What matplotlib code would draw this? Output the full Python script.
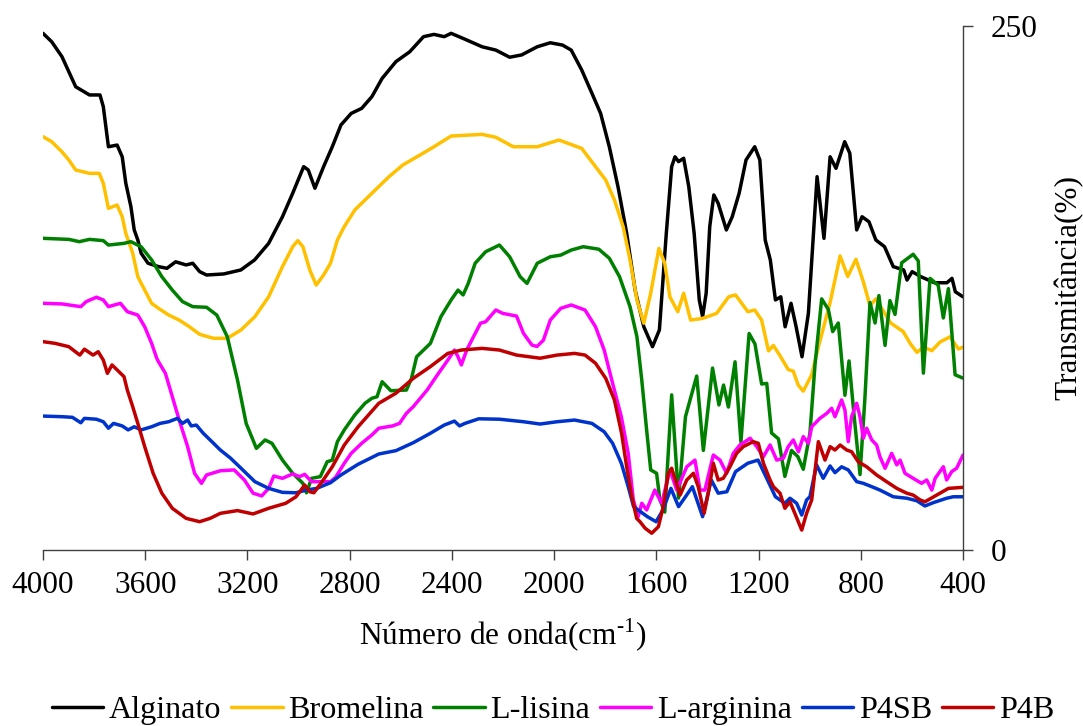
import matplotlib
matplotlib.use("Agg")
import matplotlib.pyplot as plt

plt.rcParams['font.family'] = ['Liberation Serif', 'DejaVu Serif']
plt.rcParams['mathtext.fontset'] = 'custom'
plt.rcParams['mathtext.rm'] = 'Liberation Serif'

# FTIR spectra: wavenumber (cm-1) and transmittance (%)
alginato_wn = [4000, 3966, 3926, 3899, 3872, 3818, 3777, 3764, 3744, 3710, 3690, 3676, 3656, 3643,
               3629, 3616, 3589, 3548, 3515, 3481, 3440, 3414, 3387, 3360, 3293, 3226, 3172, 3117,
               3063, 3023, 2980, 2962, 2936, 2902, 2868, 2834, 2794, 2753, 2713, 2673, 2619, 2565,
               2511, 2470, 2430, 2403, 2349, 2282, 2228, 2174, 2127, 2066, 2015, 1967, 1933, 1892,
               1852, 1818, 1784, 1750, 1716, 1683, 1649, 1615, 1588, 1561, 1540, 1527, 1513, 1493,
               1473, 1452, 1432, 1419, 1405, 1391, 1375, 1358, 1326, 1303, 1276, 1249, 1215, 1195,
               1174, 1154, 1134, 1113, 1096, 1073, 1053, 1030, 1005, 971, 944, 920, 897, 863, 843,
               816, 795, 768, 741, 707, 673, 632, 619, 599, 565, 511, 463, 443, 430, 400]
alginato_t = [246.5, 242.5, 235.4, 228.2, 221.0, 217.1, 217.1, 211.5, 192.4, 193.2, 187.6, 175.0, 163.8, 152.7,
              147.9, 141.6, 136.8, 135.2, 134.4, 137.5, 136.0, 136.8, 132.8, 131.2, 131.7, 133.6, 138.4, 146.3,
              159.0, 170.2, 182.9, 181.3, 172.6, 182.9, 192.4, 202.8, 208.3, 210.7, 216.3, 225.0, 233.0, 237.7,
              244.9, 246.0, 244.9, 246.5, 243.7, 240.1, 238.5, 235.1, 236.2, 240.1, 242.0, 240.9, 238.5, 229.0,
              217.9, 208.3, 192.4, 173.3, 151.1, 124.0, 106.5, 97.0, 105.0, 151.1, 182.9, 187.6, 185.3, 186.9,
              173.3, 151.1, 119.3, 111.3, 122.5, 154.3, 169.4, 165.4, 152.7, 159.0, 170.2, 186.1, 192.4, 186.1,
              147.9, 138.4, 119.3, 120.8, 106.5, 117.7, 106.5, 92.2, 112.9, 178.1, 148.7, 187.6, 182.1, 194.8, 189.3,
              152.7, 159.0, 156.6, 147.9, 144.7, 135.2, 133.6, 128.8, 132.8, 130.4, 127.5, 127.5, 129.6, 123.2, 120.8]

bromelina_wn = [4000, 3966, 3926, 3899, 3872, 3818, 3780, 3764, 3744, 3710, 3690, 3676, 3649, 3629,
                3602, 3575, 3548, 3508, 3467, 3427, 3387, 3333, 3279, 3225, 3171, 3117, 3063, 3023,
                3003, 2983, 2956, 2931, 2902, 2875, 2848, 2821, 2780, 2713, 2646, 2592, 2524, 2470,
                2403, 2282, 2228, 2160, 2066, 1981, 1892, 1838, 1798, 1764, 1730, 1703, 1676, 1649,
                1622, 1590, 1567, 1547, 1516, 1493, 1466, 1419, 1364, 1317, 1290, 1242, 1215, 1188,
                1161, 1142, 1116, 1084, 1064, 1045, 1025, 992, 966, 920, 881, 851, 819, 790, 764,
                741, 683, 634, 606, 580, 555, 522, 490, 451, 418, 400]
bromelina_t = [197.2, 194.8, 190.0, 186.1, 181.3, 179.7, 179.7, 175.0, 163.0, 164.6, 159.0, 151.1, 141.6, 130.4,
               124.0, 117.7, 115.3, 112.1, 109.7, 106.5, 102.9, 101.0, 101.0, 105.0, 111.3, 120.8, 135.2, 144.7,
               147.6, 144.7, 133.6, 126.4, 131.2, 136.8, 147.9, 154.3, 162.2, 170.2, 178.1, 183.7, 188.5, 192.4,
               197.5, 198.3, 196.9, 192.4, 192.4, 195.6, 191.6, 182.9, 176.5, 167.0, 154.3, 138.4, 119.3, 108.2,
               122.5, 143.9, 136.8, 120.8, 113.7, 122.5, 109.7, 110.5, 112.9, 120.8, 121.7, 113.7, 114.5, 109.7,
               95.0, 97.6, 92.7, 86.1, 85.3, 78.7, 75.8, 83.6, 96.8, 118.1, 140.3, 130.5, 138.7, 128.0, 116.5,
               119.8, 108.3, 104.2, 98.4, 94.3, 96.8, 95.1, 99.2, 101.7, 95.9, 96.8]

lisina_wn = [4000, 3899, 3858, 3818, 3764, 3744, 3683, 3656, 3616, 3575, 3535, 3494, 3454, 3414,
             3360, 3320, 3279, 3239, 3205, 3165, 3131, 3104, 3063, 3023, 2983, 2969, 2949, 2915,
             2888, 2868, 2848, 2821, 2780, 2740, 2713, 2693, 2673, 2639, 2578, 2558, 2538, 2484,
             2443, 2403, 2376, 2356, 2336, 2309, 2268, 2214, 2174, 2133, 2106, 2066, 2015, 1974,
             1933, 1886, 1825, 1784, 1744, 1703, 1676, 1657, 1638, 1622, 1599, 1586, 1567, 1540,
             1513, 1486, 1468, 1442, 1416, 1380, 1355, 1337, 1318, 1292, 1269, 1237, 1214, 1201,
             1188, 1168, 1149, 1122, 1097, 1071, 1046, 1025, 999, 979, 953, 927, 910, 888, 862,
             846, 826, 803, 784, 764, 744, 729, 705, 686, 666, 640, 595, 575, 555, 529, 497,
             477, 457, 431, 400]
lisina_t = [148.7, 148.2, 147.1, 148.2, 147.6, 145.5, 146.3, 147.1, 144.7, 138.4, 130.4, 124.0, 118.5, 116.1,
            115.8, 112.1, 101.8, 81.1, 60.4, 48.5, 52.5, 50.9, 42.9, 36.6, 31.8, 27.3, 34.2, 35.0,
            42.1, 42.9, 51.7, 57.3, 64.4, 70.0, 72.4, 73.1, 80.3, 76.0, 76.3, 81.9, 92.2, 98.6,
            111.3, 119.3, 124.0, 121.7, 127.2, 136.8, 142.3, 145.5, 139.9, 130.4, 127.2, 136.8, 139.9, 140.7,
            143.1, 144.7, 143.5, 139.2, 130.4, 116.1, 101.8, 81.1, 57.3, 38.2, 36.6, 23.9, 18.1, 74.0,
            24.8, 63.6, 71.6, 83.0, 47.5, 86.8, 69.2, 78.7, 68.2, 89.8, 51.5, 103.3, 98.3, 88.7,
            79.2, 79.5, 55.8, 53.0, 35.1, 47.5, 44.5, 38.5, 55.7, 88.5, 119.8, 114.8, 104.2, 108.3, 73.8,
            90.2, 63.9, 36.0, 72.1, 118.1, 108.3, 121.4, 97.6, 119.0, 112.4, 137.0, 141.1, 137.9, 84.4, 129.6, 126.3,
            110.7, 124.7, 83.6, 82.0]

arginina_wn = [4000, 3926, 3852, 3831, 3791, 3764, 3744, 3697, 3670, 3629, 3602, 3575, 3555, 3548,
               3521, 3494, 3467, 3434, 3407, 3380, 3360, 3306, 3252, 3212, 3178, 3144, 3117, 3097,
               3063, 3023, 2996, 2976, 2949, 2915, 2875, 2855, 2821, 2794, 2753, 2713, 2686, 2632,
               2605, 2578, 2551, 2497, 2457, 2416, 2390, 2376, 2363, 2342, 2322, 2288, 2268, 2228,
               2201, 2147, 2120, 2087, 2067, 2042, 2015, 1974, 1933, 1879, 1838, 1804, 1771, 1737,
               1710, 1690, 1671, 1657, 1638, 1606, 1579, 1547, 1520, 1481, 1449, 1429, 1410, 1377,
               1351, 1325, 1299, 1273, 1233, 1207, 1181, 1155, 1129, 1103, 1084, 1064, 1044, 1025,
               1005, 992, 960, 933, 914, 901, 875, 862, 849, 836, 816, 803, 790, 777, 757, 738,
               725, 705, 679, 659, 646, 627, 595, 562, 542, 522, 509, 477, 464, 444, 425, 400]
arginina_t = [117.7, 117.4, 116.1, 118.5, 120.6, 119.3, 116.1, 117.7, 113.7, 112.1, 106.5, 98.6, 91.5, 89.8,
              84.3, 73.1, 62.0, 49.3, 36.6, 31.8, 35.8, 37.8, 38.2, 33.4, 27.1, 25.8, 29.4, 35.3,
              34.2, 36.3, 35.0, 36.1, 32.6, 32.6, 32.6, 34.7, 41.4, 46.1, 50.9, 54.9, 58.1, 59.2,
              60.4, 65.2, 68.4, 76.3, 83.5, 90.6, 95.4, 92.2, 88.3, 95.4, 100.2, 108.2, 108.9, 114.5,
              112.9, 111.6, 103.4, 97.8, 97.1, 100.1, 109.7, 115.3, 116.9, 114.5, 106.5, 95.4, 79.5, 63.6,
              46.1, 23.9, 15.9, 22.3, 19.1, 28.6, 22.3, 38.2, 28.6, 39.7, 42.9, 28.6, 28.6, 45.3,
              42.9, 36.6, 46.1, 50.1, 53.3, 49.3, 44.5, 50.1, 42.9, 43.8, 49.3, 52.5, 46.9, 54.1,
              50.9, 58.8, 62.8, 65.2, 67.6, 63.6, 71.6, 66.8, 51.7, 63.6, 70.0, 63.6, 53.3, 58.1, 52.5, 50.1,
              44.5, 39.0, 46.1, 40.6, 42.9, 36.6, 34.2, 31.8, 33.4, 28.6, 34.2, 39.7, 33.4, 37.4, 39.0, 45.3]

p4sb_wn = [4000, 3926, 3885, 3852, 3838, 3791, 3764, 3744, 3724, 3690, 3667, 3643, 3616, 3575,
           3542, 3508, 3474, 3454, 3434, 3420, 3400, 3373, 3346, 3306, 3266, 3225, 3171, 3117,
           3063, 3010, 2969, 2929, 2875, 2834, 2767, 2686, 2619, 2551, 2484, 2430, 2390, 2370,
           2349, 2295, 2214, 2120, 2055, 1988, 1920, 1852, 1804, 1771, 1737, 1710, 1689, 1662,
           1635, 1601, 1574, 1543, 1513, 1486, 1459, 1419, 1385, 1358, 1324, 1290, 1242, 1202,
           1168, 1134, 1097, 1077, 1051, 1031, 1012, 999, 973, 947, 920, 901, 875, 849, 816,
           790, 757, 725, 673, 620, 581, 549, 516, 464, 438, 400]
p4sb_t = [63.9, 63.6, 63.3, 60.7, 62.8, 62.4, 61.2, 58.1, 60.4, 59.2, 57.3, 58.8, 57.3, 58.8,
          60.4, 61.2, 62.8, 60.4, 62.0, 59.2, 59.6, 55.7, 52.5, 47.7, 43.8, 39.0, 32.6, 29.4,
          27.5, 27.3, 28.6, 29.4, 32.1, 35.8, 40.9, 45.8, 47.4, 51.2, 55.7, 59.6, 61.5, 59.2,
          60.4, 62.6, 62.4, 61.2, 60.1, 61.2, 62.0, 60.4, 56.4, 50.9, 41.4, 30.2, 20.7, 18.3,
          15.9, 13.5, 19.1, 29.4, 20.7, 25.4, 30.2, 15.9, 33.4, 27.1, 27.8, 37.4, 41.4, 42.9,
          34.2, 25.4, 22.3, 24.7, 22.3, 16.7, 23.9, 25.4, 40.6, 34.2, 40.1, 36.9, 39.7, 38.2, 32.6,
          31.8, 30.2, 28.6, 25.4, 24.7, 23.5, 21.0, 22.6, 24.7, 25.4, 25.4]

p4b_wn = [4000, 3953, 3899, 3856, 3838, 3804, 3784, 3764, 3748, 3730, 3703, 3683, 3670, 3649,
          3629, 3602, 3569, 3535, 3494, 3440, 3387, 3346, 3306, 3239, 3178, 3117, 3050, 3010,
          2976, 2956, 2940, 2908, 2868, 2821, 2767, 2686, 2619, 2551, 2484, 2416, 2363, 2282,
          2214, 2147, 2055, 1988, 1920, 1879, 1838, 1798, 1764, 1736, 1716, 1696, 1677, 1664,
          1644, 1618, 1592, 1573, 1553, 1540, 1507, 1481, 1455, 1436, 1413, 1397, 1377, 1358,
          1338, 1312, 1286, 1260, 1221, 1201, 1181, 1155, 1142, 1116, 1097, 1077, 1058, 1031,
          1012, 992, 966, 940, 920, 901, 881, 855, 836, 810, 777, 738, 699, 659, 620, 595,
          568, 549, 503, 457, 400]
p4b_t = [99.4, 98.6, 97.0, 93.0, 95.8, 93.0, 94.6, 90.6, 84.3, 88.3, 85.1, 82.7, 76.3, 68.4,
         60.4, 49.3, 36.6, 27.1, 19.9, 15.1, 13.5, 15.1, 17.5, 18.8, 17.2, 19.9, 22.3, 25.4,
         31.0, 27.8, 27.3, 32.6, 39.7, 50.1, 58.8, 70.0, 74.8, 81.9, 87.5, 93.8, 95.4, 96.2,
         95.4, 93.0, 91.5, 93.0, 93.8, 93.0, 89.1, 81.9, 71.6, 55.7, 39.7, 25.4, 15.1, 13.5,
         10.4, 8.0, 11.1, 20.7, 36.6, 39.0, 26.2, 33.4, 36.6, 30.2, 17.5, 27.1, 41.4, 33.4,
         34.2, 39.7, 46.1, 49.3, 51.7, 50.9, 41.4, 33.4, 30.2, 27.1, 19.9, 23.0, 17.5, 9.5,
         17.5, 23.9, 51.7, 42.9, 49.3, 47.7, 50.1, 47.7, 46.9, 42.1, 39.7, 35.8, 32.6, 29.4, 27.1, 26.2,
         23.9, 23.0, 26.2, 29.4, 29.9]

series = [
    ("Alginato", alginato_wn, alginato_t, "#000000"),
    ("Bromelina", bromelina_wn, bromelina_t, "#FFC000"),
    ("L-lisina", lisina_wn, lisina_t, "#008000"),
    ("L-arginina", arginina_wn, arginina_t, "#FF00FF"),
    ("P4SB", p4sb_wn, p4sb_t, "#0033CC"),
    ("P4B", p4b_wn, p4b_t, "#C00000"),
]

x_ticks = [4000, 3600, 3200, 2800, 2400, 2000, 1600, 1200, 800, 400]
y_ticks = [0, 250]

W, H = 1083, 726
fig = plt.figure(figsize=(W / 100, H / 100), dpi=100)
ax = fig.add_axes([43 / W, 1 - 550 / H, (963 - 43) / W, (550 - 26) / H])

for name, wn, t, color in series:
    ax.plot(wn, t, color=color, lw=2.5, label=name,
            solid_joinstyle='round', solid_capstyle='round')

ax.set_xlim(4000, 400)
ax.set_ylim(0, 250)

for side in ("top", "left"):
    ax.spines[side].set_visible(False)
for side in ("bottom", "right"):
    ax.spines[side].set_color("#404040")
    ax.spines[side].set_linewidth(1.0)

ax.set_xticks(x_ticks)
ax.set_xticklabels([str(v) for v in x_ticks])
ax.set_yticks(y_ticks)
ax.yaxis.tick_right()
ax.yaxis.set_label_position("right")
ax.tick_params(axis="x", direction="out", length=7, width=1, color="#404040",
               labelsize=22.5, pad=8)
ax.tick_params(axis="y", direction="out", length=7, width=1, color="#404040",
               labelsize=22.5, pad=13)

ax.set_xlabel("Número de onda(cm$^{\\text{-1}}$)", fontsize=22.5, labelpad=12)
ax.set_ylabel("Transmitância(%)", fontsize=22.5, labelpad=12)

fig.legend(loc="center", bbox_to_anchor=(553 / W, 1 - 710 / H), ncol=6, frameon=False,
           fontsize=23.1, handlelength=1.6, handletextpad=0.18, columnspacing=0.3)

fig.savefig("out.png", dpi=100)
